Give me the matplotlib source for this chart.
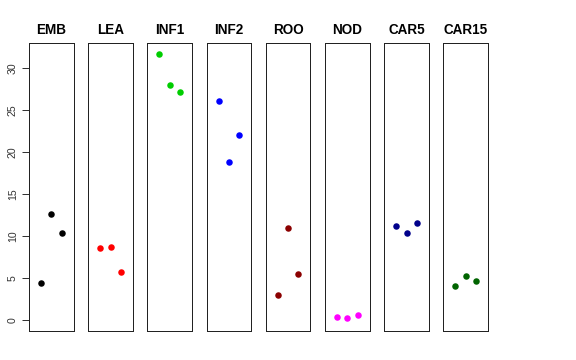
import matplotlib
matplotlib.use("Agg")
import matplotlib.pyplot as plt
import numpy as np

# Groups and their three values each
groups = ["EMB", "LEA", "INF1", "INF2", "ROO", "NOD", "CAR5", "CAR15"]
emb = [4.4, 12.6, 10.4]
lea = [8.65, 8.7, 5.75]
inf1 = [31.7, 28.05, 27.2]
inf2 = [26.15, 18.85, 22.1]
roo = [3.05, 11.0, 5.48]
nod = [0.36, 0.32, 0.68]
car5 = [11.19, 10.44, 11.55]
car15 = [4.05, 5.28, 4.64]
values = [emb, lea, inf1, inf2, roo, nod, car5, car15]
colors = ["black", "#FF0000", "#00CD00", "#0000FF", "#8B0000", "#FF00FF", "#00008B", "#006400"]
yticks = [0, 5, 10, 15, 20, 25, 30]

plt.rcParams["font.family"] = ["Liberation Sans", "DejaVu Sans"]

W, H = 576, 360
fig = plt.figure(figsize=(W / 72, H / 72), dpi=72)

# R-style limits: 0..max with 4% padding
ymax = max(max(v) for v in values)
ypad = 0.04 * ymax
xpad = 0.04 * 4

left0, step, width = 29, 59.2, 44.6
top, bottom = 43.3, 331

for i, (name, vals, col) in enumerate(zip(groups, values, colors)):
    ax = fig.add_axes([(left0 + i * step) / W, (H - bottom) / H,
                       width / W, (bottom - top) / H])
    x = np.arange(1, len(vals) + 1)
    ax.plot(x, vals, "o", color=col, markersize=6.5, markeredgewidth=0)
    ax.set_xlim(0 - xpad, 4 + xpad)
    ax.set_ylim(0 - ypad, ymax + ypad)
    ax.set_xticks([])
    ax.set_title(name, fontsize=13.5, fontweight="bold", pad=9)
    for s in ax.spines.values():
        s.set_linewidth(1)
        s.set_color("#222222")
    if i == 0:
        ax.set_yticks(yticks)
        ax.set_yticklabels([str(t) for t in yticks], rotation=90,
                           va="center", fontsize=10.5, color="#333333")
        ax.tick_params(axis="y", length=7, width=1, pad=4, color="#333333")
    else:
        ax.set_yticks([])

fig.savefig("out.png", dpi=72)
